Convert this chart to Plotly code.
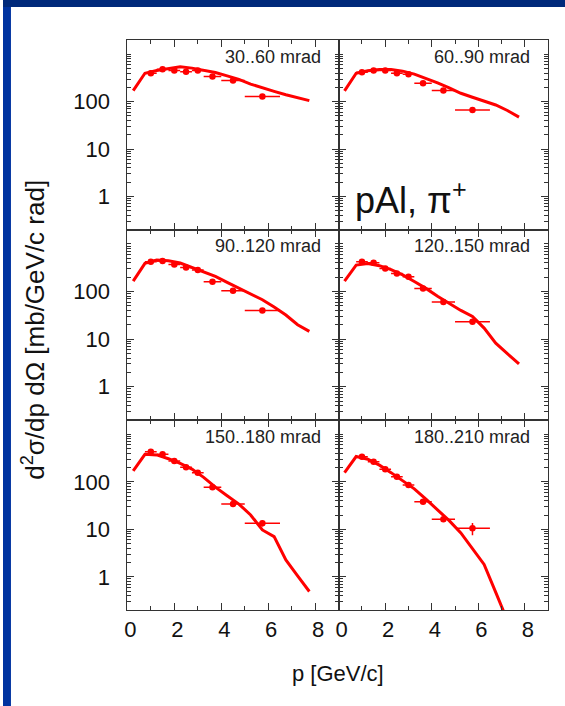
import plotly.graph_objects as go
import math

W, H = 565, 706

# ---------------- data ----------------
p_model = [0.25, 0.75, 1.25, 1.75, 2.25, 2.75, 3.25, 3.75,
           4.25, 4.75, 5.25, 5.75, 6.25, 6.75, 7.25, 7.75]
p_data = [1.0, 1.5, 2.0, 2.5, 3.0, 3.625, 4.5, 5.75]
p_halfwidth = [0.25, 0.25, 0.25, 0.25, 0.25, 0.375, 0.5, 0.75]

panel_labels = ["30..60 mrad", "60..90 mrad", "90..120 mrad",
                "120..150 mrad", "150..180 mrad", "180..210 mrad"]

model_30_60 = [171, 398, 455, 505, 545, 510, 465, 412, 350, 295, 235, 195, 165, 140, 122, 105]
model_60_90 = [169, 398, 450, 478, 475, 440, 380, 311, 248, 196, 150, 124, 104, 85, 65, 47]
model_90_120 = [165, 390, 455, 440, 395, 320, 265, 207, 155, 116, 89, 67, 47, 32, 20, 14.5]
model_120_150 = [165, 358, 385, 348, 287, 223, 162, 116, 79, 56, 40, 30, 17, 8.2, 4.9, 3.0]
model_150_180 = [169, 379, 368, 306, 243, 185, 124, 77, 51, 34, 20, 9.7, 7.0, 2.26, 1.05, 0.49]
model_180_210 = [156, 340, 299, 224, 156, 107, 71, 43, 26, 15.2, 8.4, 3.8, 1.82, 0.47, 0.12, 0.05]

data_30_60 = [398, 483, 452, 430, 452, 338, 279, 128]
data_60_90 = [417, 452, 452, 398, 379, 245, 171, 67]
data_90_120 = [420, 434, 370, 320, 281, 159, 103, 40]
data_120_150 = [420, 400, 305, 239, 203, 116, 60, 23]
data_150_180 = [430, 379, 274, 202, 156, 77, 34, 13.4]
data_180_210 = [338, 265, 183, 128, 86, 38, 16.2, 10.5]

err_30_60 = [25, 30, 28, 27, 28, 22, 20, 12]
err_60_90 = [26, 28, 28, 25, 24, 16, 12, 7]
err_90_120 = [26, 27, 23, 20, 18, 11, 8, 4]
err_120_150 = [26, 25, 19, 15, 13, 8, 5, 2.5]
err_150_180 = [40, 24, 17, 13, 10, 6, 3, 2]
err_180_210 = [21, 17, 12, 8, 6, 3, 1.5, 3]

models = [model_30_60, model_60_90, model_90_120, model_120_150, model_150_180, model_180_210]
datas = [data_30_60, data_60_90, data_90_120, data_120_150, data_150_180, data_180_210]
errs = [err_30_60, err_60_90, err_90_120, err_120_150, err_150_180, err_180_210]

x_tickvals = [0, 2, 4, 6, 8]
x_ticktext = ["0", "2", "4", "6", "8"]
x_minor = [1, 3, 5, 7]
y_tickvals = [1, 10, 100]
y_ticktext = ["1", "10", "100"]
y_minor = [m * 10 ** e for e in (-1, 0, 1, 2) for m in range(2, 10)] + [1000]

# ---------------- layout geometry (pixels) ----------------
col_px = [(125, 337.5), (337.5, 548)]
row_px = [(40, 229.5), (229.5, 420), (420, 610)]

RED = "#ff0000"
AX = "#333333"
FONT = "Liberation Sans, Arial, sans-serif"

fig = go.Figure()
layout = {}
annotations = []

for i in range(6):
    r, c = divmod(i, 2)
    n = i + 1
    xs = "" if n == 1 else str(n)
    x0, x1 = col_px[c]
    y0, y1 = row_px[r]
    fig.add_trace(go.Scatter(
        x=p_model, y=models[i], mode="lines",
        line=dict(color=RED, width=3), xaxis="x" + xs, yaxis="y" + xs,
        showlegend=False, hoverinfo="skip"))
    fig.add_trace(go.Scatter(
        x=p_data, y=datas[i], mode="markers",
        marker=dict(color=RED, size=6.5),
        error_x=dict(type="data", array=p_halfwidth, color=RED, thickness=1.5, width=0),
        error_y=dict(type="data", array=errs[i], color=RED, thickness=1.5, width=0),
        xaxis="x" + xs, yaxis="y" + xs, showlegend=False))

    layout["xaxis" + xs] = dict(
        domain=[x0 / W, x1 / W], anchor="y" + xs, range=[0, 9],
        showline=True, linecolor=AX, linewidth=1, mirror="ticks",
        ticks="inside", ticklen=7, tickwidth=1, tickcolor=AX,
        tickmode="array", tickvals=x_tickvals, ticktext=x_ticktext,
        showticklabels=(r == 2), ticklabelshift=3,
        tickfont=dict(family=FONT, size=22, color="#111111"),
        minor=dict(tickmode="array", tickvals=x_minor, ticks="inside",
                   ticklen=4, tickwidth=1, tickcolor=AX, showgrid=False),
        showgrid=False, zeroline=False, fixedrange=True)
    layout["yaxis" + xs] = dict(
        domain=[1 - y1 / H, 1 - y0 / H], anchor="x" + xs, type="log",
        range=[math.log10(0.2), math.log10(2000)],
        showline=True, linecolor=AX, linewidth=1, mirror="ticks",
        ticks="inside", ticklen=7, tickwidth=1, tickcolor=AX,
        tickmode="array", tickvals=y_tickvals, ticktext=y_ticktext,
        showticklabels=(c == 0), ticklabelstandoff=12,
        tickfont=dict(family=FONT, size=22, color="#111111"),
        minor=dict(tickmode="array", tickvals=y_minor, ticks="inside",
                   ticklen=4, tickwidth=1, tickcolor=AX, showgrid=False),
        showgrid=False, zeroline=False, fixedrange=True)

    annotations.append(dict(
        text=panel_labels[i], xref="paper", yref="paper",
        x=(x1 - 16) / W, y=1 - (y0 + 17) / H, xanchor="right", yanchor="middle",
        showarrow=False, font=dict(family=FONT, size=18, color="#222222")))

annotations.append(dict(
    text="pAl, π<sup>+</sup>", xref="paper", yref="paper",
    x=352 / W, y=1 - 198 / H, xanchor="left", yanchor="middle",
    showarrow=False, font=dict(family=FONT, size=36, color="#111111")))
annotations.append(dict(
    text="p [GeV/c]", xref="paper", yref="paper",
    x=337 / W, y=1 - 673 / H, xanchor="center", yanchor="middle",
    showarrow=False, font=dict(family=FONT, size=22, color="#111111")))
annotations.append(dict(
    text="d<sup>2</sup>σ/dp dΩ [mb/GeV/c rad]", xref="paper", yref="paper",
    x=31 / W, y=1 - 330 / H, xanchor="center", yanchor="middle", textangle=-90,
    showarrow=False, font=dict(family=FONT, size=26, color="#111111")))

shapes = [
    dict(type="rect", xref="paper", yref="paper", x0=0, x1=1, y0=1 - 7 / H, y1=1,
         fillcolor="#00297a", line=dict(width=0), layer="above"),
    dict(type="rect", xref="paper", yref="paper", x0=0, x1=8 / W, y0=0, y1=1 - 7 / H,
         fillcolor="#0033a0", line=dict(width=0), layer="above"),
]

fig.update_layout(
    width=W, height=H, margin=dict(l=0, r=0, t=0, b=0),
    paper_bgcolor="white", plot_bgcolor="white",
    annotations=annotations, shapes=shapes, **layout)

fig.write_html("out.html")
